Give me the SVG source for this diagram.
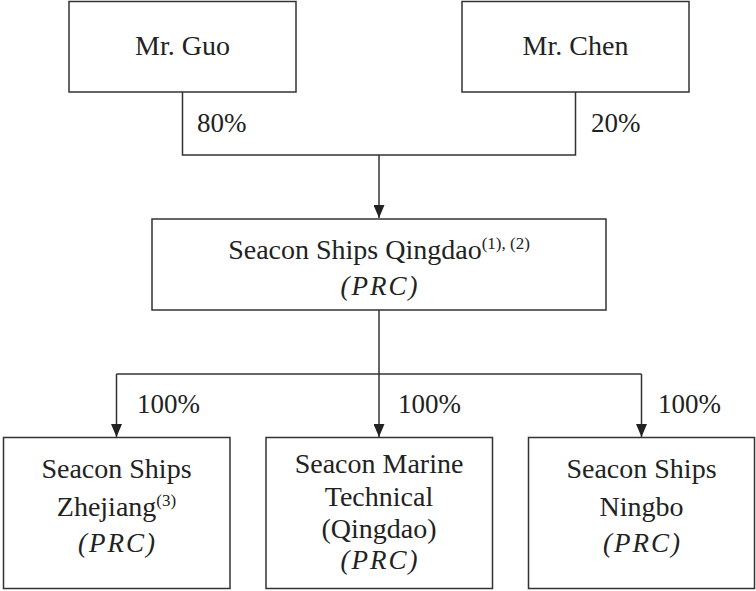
<svg xmlns="http://www.w3.org/2000/svg" width="756" height="591" viewBox="0 0 756 591">
<defs>
<marker id="arr" viewBox="0 0 13 11" refX="13" refY="5.5" markerWidth="13" markerHeight="11" markerUnits="userSpaceOnUse" orient="auto">
<path d="M0,0 L13,5.5 L0,11 Z" fill="#222"/>
</marker>
<style>
.box{fill:#fff;stroke:#333;stroke-width:1.5}
text{font-family:'Liberation Serif','Times New Roman',serif;fill:#222}
.t{font-size:28px;text-anchor:middle}
.it{font-size:27px;font-style:italic;text-anchor:middle;letter-spacing:2px}
.p{font-size:27px}
.sup{font-size:17px}
.ln{fill:none;stroke:#333;stroke-width:1.5}
</style>
</defs>
<rect width="756" height="591" fill="#fff"/>
<g id="connectors">
<polyline class="ln" points="182.5,92 182.5,155 575.5,155 575.5,92"/>
<line class="ln" x1="379" y1="155" x2="379" y2="218" marker-end="url(#arr)"/>
<line class="ln" x1="379" y1="310" x2="379" y2="374"/>
<line class="ln" x1="116.5" y1="374" x2="641.5" y2="374"/>
<line class="ln" x1="116.5" y1="374" x2="116.5" y2="437" marker-end="url(#arr)"/>
<line class="ln" x1="379" y1="374" x2="379" y2="437" marker-end="url(#arr)"/>
<line class="ln" x1="641.5" y1="374" x2="641.5" y2="437" marker-end="url(#arr)"/>
<text class="p" x="197" y="132">80%</text>
<text class="p" x="591" y="132">20%</text>
<text class="p" x="137" y="413">100%</text>
<text class="p" x="398" y="413">100%</text>
<text class="p" x="658" y="413">100%</text>
</g>
<g id="guo">
<rect class="box" x="69" y="1.5" width="227" height="90.5"/>
<text class="t" x="182.5" y="55">Mr. Guo</text>
</g>
<g id="chen">
<rect class="box" x="462" y="1.5" width="227" height="90.5"/>
<text class="t" x="575.5" y="55">Mr. Chen</text>
</g>
<g id="qingdao">
<rect class="box" x="152" y="219" width="454" height="91"/>
<text class="t" x="379" y="259">Seacon Ships Qingdao<tspan class="sup" dy="-10">(1), (2)</tspan></text>
<text class="it" x="380" y="295">(PRC)</text>
</g>
<g id="zhejiang">
<rect class="box" x="3.5" y="437.5" width="226.5" height="151"/>
<text class="t" x="116.5" y="478">Seacon Ships</text>
<text class="t" x="116.5" y="516">Zhejiang<tspan class="sup" dy="-10">(3)</tspan></text>
<text class="it" x="117.5" y="552">(PRC)</text>
</g>
<g id="marine">
<rect class="box" x="266" y="437.5" width="226.5" height="151"/>
<text class="t" x="379" y="473">Seacon Marine</text>
<text class="t" x="379" y="506">Technical</text>
<text class="t" x="379" y="538">(Qingdao)</text>
<text class="it" x="380" y="569">(PRC)</text>
</g>
<g id="ningbo">
<rect class="box" x="528.5" y="437.5" width="226" height="151"/>
<text class="t" x="641.5" y="478">Seacon Ships</text>
<text class="t" x="641.5" y="516">Ningbo</text>
<text class="it" x="642.5" y="552">(PRC)</text>
</g>
</svg>
